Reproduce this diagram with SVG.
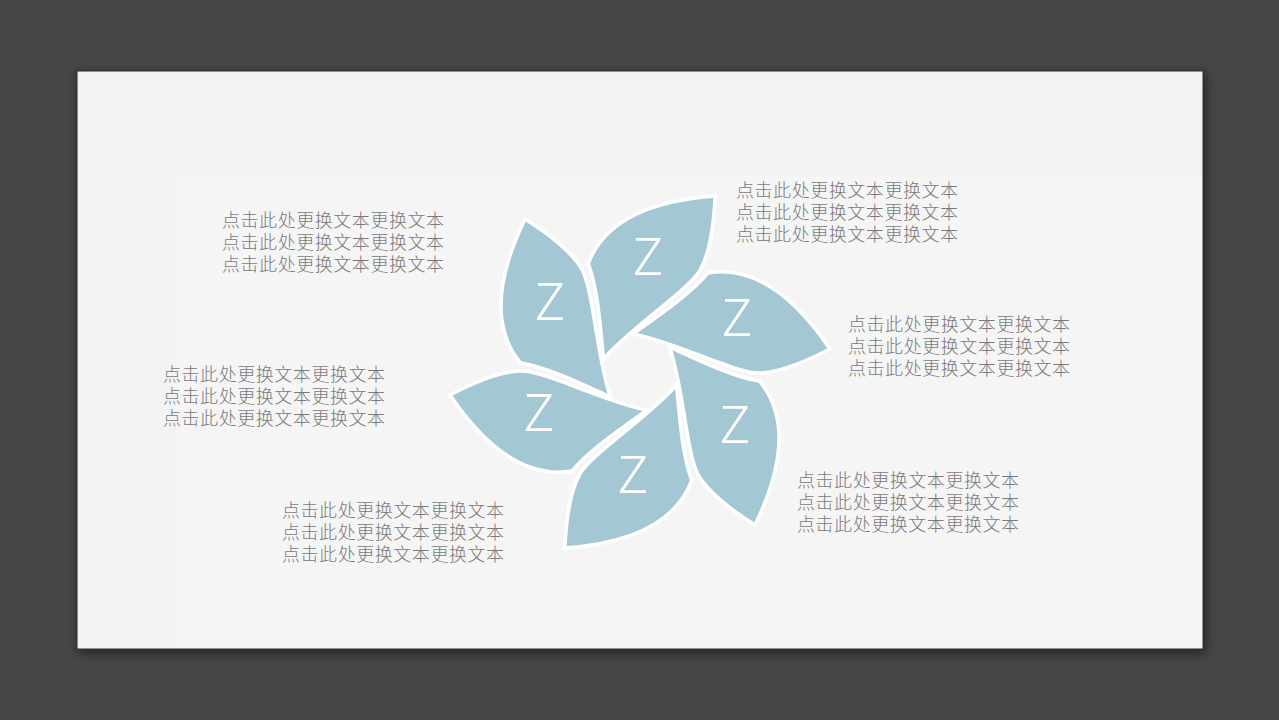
<svg xmlns="http://www.w3.org/2000/svg" xmlns:xlink="http://www.w3.org/1999/xlink" width="1279" height="720" viewBox="0 0 1279 720">
  <style>
    .petal { fill: #a3c8d4; stroke: #ffffff; stroke-width: 3.5; stroke-linejoin: round; }
    .z { font-family: "Noto Sans", "Liberation Sans", sans-serif; font-size: 52px; font-weight: 300; fill: #ffffff; text-anchor: middle; }
    .t { font-family: "Noto Sans CJK SC", "Noto Sans", sans-serif; font-size: 18px; letter-spacing: 0.55px; font-weight: 300; fill: #7a7a7a; }
  </style>
  <defs>
    <filter id="shadow" x="-5%" y="-5%" width="110%" height="112%">
      <feDropShadow dx="2" dy="3" stdDeviation="6" flood-color="#000000" flood-opacity="0.55"/>
    </filter>
    <path id="leaf" d="M633,334 C655,318 690,295 708,273 C750,266 790,290 830,349 C805,362 780,373 758,373 C735,373 670,340 633,334 Z"/>
  </defs>
  <rect x="0" y="0" width="1279" height="720" fill="#464646"/>
  <g id="slide">
    <rect x="77" y="71" width="1126" height="578" fill="#f3f3f3" stroke="#2e2e2e" stroke-width="1" filter="url(#shadow)"/>
    <rect x="176" y="176" width="1026" height="472" fill="#f5f5f5"/>
  </g>
  <g id="petal-top-left">
    <use xlink:href="#leaf" class="petal" transform="rotate(-120 640 372)"/>
    <text class="z" x="550" y="320">Z</text>
  </g>
  <g id="petal-top">
    <use xlink:href="#leaf" class="petal" transform="rotate(-60 640 372)"/>
    <text class="z" x="648" y="275">Z</text>
  </g>
  <g id="petal-right">
    <use xlink:href="#leaf" class="petal"/>
    <text class="z" x="737" y="336">Z</text>
  </g>
  <g id="petal-bottom-right">
    <use xlink:href="#leaf" class="petal" transform="rotate(60 640 372)"/>
    <text class="z" x="735" y="443">Z</text>
  </g>
  <g id="petal-bottom">
    <use xlink:href="#leaf" class="petal" transform="rotate(120 640 372)"/>
    <text class="z" x="633" y="493">Z</text>
  </g>
  <g id="petal-left">
    <use xlink:href="#leaf" class="petal" transform="rotate(180 640 372)"/>
    <text class="z" x="539" y="431">Z</text>
  </g>
  <g id="connectors"></g>
  <g id="text-1">
    <text class="t" x="222" y="227">点击此处更换文本更换文本</text>
    <text class="t" x="222" y="249">点击此处更换文本更换文本</text>
    <text class="t" x="222" y="271">点击此处更换文本更换文本</text>
  </g>
  <g id="text-2">
    <text class="t" x="736" y="197">点击此处更换文本更换文本</text>
    <text class="t" x="736" y="219">点击此处更换文本更换文本</text>
    <text class="t" x="736" y="241">点击此处更换文本更换文本</text>
  </g>
  <g id="text-3">
    <text class="t" x="848" y="331">点击此处更换文本更换文本</text>
    <text class="t" x="848" y="353">点击此处更换文本更换文本</text>
    <text class="t" x="848" y="375">点击此处更换文本更换文本</text>
  </g>
  <g id="text-4">
    <text class="t" x="163" y="381">点击此处更换文本更换文本</text>
    <text class="t" x="163" y="403">点击此处更换文本更换文本</text>
    <text class="t" x="163" y="425">点击此处更换文本更换文本</text>
  </g>
  <g id="text-5">
    <text class="t" x="797" y="487">点击此处更换文本更换文本</text>
    <text class="t" x="797" y="509">点击此处更换文本更换文本</text>
    <text class="t" x="797" y="531">点击此处更换文本更换文本</text>
  </g>
  <g id="text-6">
    <text class="t" x="282" y="517">点击此处更换文本更换文本</text>
    <text class="t" x="282" y="539">点击此处更换文本更换文本</text>
    <text class="t" x="282" y="561">点击此处更换文本更换文本</text>
  </g>
</svg>
